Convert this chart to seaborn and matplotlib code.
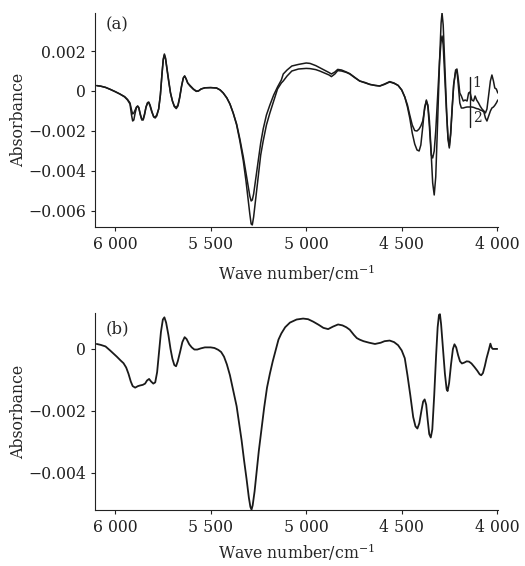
import matplotlib
matplotlib.use("Agg")
import matplotlib.pyplot as plt
import seaborn as sns
import pandas as pd

# ------------------------------
# Data
# ------------------------------

# panel (a): two spectra on a common wave-number grid
wn_a = [6096, 6075, 6050, 6025, 6000, 5975, 5950, 5935, 5922, 5914, 5908, 5902,
        5895, 5888, 5882, 5876, 5868, 5860, 5853, 5846, 5838, 5830, 5824, 5817,
        5808, 5798, 5790, 5782, 5772, 5763, 5755, 5748, 5742, 5736, 5728, 5720,
        5710, 5700, 5690, 5680, 5671, 5662, 5652, 5643, 5636, 5628, 5620, 5608,
        5590, 5575, 5564, 5550, 5530, 5500, 5469, 5450, 5434, 5415, 5399, 5382,
        5364, 5347, 5329, 5315, 5303, 5295, 5288, 5282, 5275, 5265, 5251, 5238,
        5225, 5208, 5190, 5170, 5150, 5130, 5120, 5100, 5075, 5040, 5000, 4980,
        4950, 4929, 4900, 4880, 4868, 4850, 4835, 4815, 4790, 4772, 4745, 4720,
        4690, 4667, 4640, 4615, 4590, 4563, 4540, 4519, 4500, 4484, 4470, 4458,
        4445, 4432, 4420, 4409, 4400, 4390, 4380, 4371, 4363, 4355, 4345, 4338,
        4330, 4322, 4312, 4302, 4294, 4289, 4283, 4274, 4265, 4258, 4251, 4244,
        4236, 4228, 4218, 4211, 4204, 4196, 4188, 4178, 4168, 4158, 4150, 4143,
        4133, 4124, 4116, 4108, 4098, 4090, 4080, 4070, 4062, 4054, 4045, 4036,
        4028, 4020, 4013, 4005, 3997]

# absorbance x 1e-3
curve1 = [0.27, 0.24, 0.18, 0.08, -0.03, -0.15, -0.28, -0.42, -0.6, -0.95, -1.15, -1.1,
          -0.95, -0.8, -0.76, -0.85, -1.15, -1.42, -1.4, -1.15, -0.8, -0.6, -0.58, -0.75,
          -1.05, -1.28, -1.3, -1.2, -0.9, -0.2, 0.8, 1.55, 1.8, 1.6, 1.05, 0.5,
          -0.1, -0.5, -0.75, -0.82, -0.7, -0.3, 0.25, 0.65, 0.75, 0.6, 0.4, 0.28,
          0.1, 0.0, 0.0, 0.1, 0.16, 0.17, 0.15, 0.05, -0.1, -0.35, -0.65, -1.1,
          -1.65, -2.4, -3.3, -4.1, -4.8, -5.25, -5.5, -5.45, -5.15, -4.5, -3.5, -2.6,
          -1.9, -1.2, -0.7, -0.2, 0.2, 0.55, 0.85, 1.05, 1.25, 1.33, 1.4, 1.38,
          1.27, 1.17, 1.02, 0.92, 0.85, 0.95, 1.08, 1.05, 0.95, 0.87, 0.68, 0.5,
          0.42, 0.33, 0.28, 0.25, 0.35, 0.47, 0.4, 0.28, 0.05, -0.3, -0.7, -1.2,
          -1.7, -1.98, -2.0, -1.9, -1.75, -1.5, -0.9, -0.45, -0.8, -1.8, -3.3, -4.6,
          -5.2, -4.3, -1.5, 1.5, 3.4, 3.9, 3.3, 1.2, -1.0, -2.4, -2.85, -2.2,
          -0.9, 0.3, 1.05, 1.1, 0.6, -0.1, -0.25, -0.5, -0.45, -0.5, -0.1, -0.05,
          -0.45, -0.5, -0.25, -0.45, -0.6, -0.75, -0.9, -1.0, -1.1, -0.9, -0.2, 0.5,
          0.8, 0.5, 0.15, 0.1, -0.1]

curve2 = [0.27, 0.24, 0.18, 0.08, -0.03, -0.15, -0.3, -0.45, -0.65, -1.2, -1.5, -1.45,
          -1.1, -0.82, -0.75, -0.82, -1.2, -1.45, -1.45, -1.2, -0.8, -0.58, -0.55, -0.7,
          -1.0, -1.3, -1.35, -1.25, -0.9, -0.2, 0.8, 1.6, 1.85, 1.65, 1.1, 0.55,
          -0.1, -0.5, -0.78, -0.88, -0.75, -0.35, 0.25, 0.65, 0.75, 0.6, 0.4, 0.25,
          0.08, -0.02, 0.0, 0.1, 0.16, 0.17, 0.15, 0.05, -0.1, -0.35, -0.65, -1.1,
          -1.7, -2.5, -3.5, -4.5, -5.5, -6.15, -6.65, -6.7, -6.3, -5.5, -4.3, -3.2,
          -2.5, -1.7, -1.1, -0.5, 0.1, 0.4, 0.5, 0.75, 1.0, 1.1, 1.13, 1.12,
          1.07, 1.0, 0.88, 0.8, 0.72, 0.85, 1.02, 1.0, 0.93, 0.85, 0.66, 0.5,
          0.4, 0.33, 0.28, 0.25, 0.33, 0.45, 0.38, 0.28, 0.05, -0.3, -0.8, -1.35,
          -2.1, -2.65, -2.95, -3.0, -2.7, -1.8, -0.8, -0.5, -0.7, -1.5, -3.2, -3.35,
          -3.0, -2.0, -0.3, 1.5, 2.5, 2.75, 2.3, 0.6, -1.2, -2.3, -2.75, -2.1,
          -0.8, 0.35, 0.95, 1.0, 0.3, -0.6, -0.85, -0.85, -0.82, -0.8, -0.8, -0.8,
          -0.8, -0.82, -0.85, -0.88, -0.9, -0.95, -0.98, -1.05, -1.35, -1.5, -1.25, -1.0,
          -0.85, -0.8, -0.72, -0.6, -0.45]

# panel (b): single spectrum
wn_b = [6096, 6075, 6050, 6026, 6005, 5991, 5970, 5956, 5942, 5930, 5918, 5908,
        5895, 5880, 5869, 5855, 5843, 5833, 5822, 5812, 5800, 5790, 5780, 5770,
        5760, 5750, 5742, 5733, 5721, 5710, 5700, 5690, 5681, 5672, 5660, 5648,
        5636, 5626, 5612, 5599, 5585, 5570, 5550, 5530, 5500, 5480, 5460, 5445,
        5430, 5415, 5399, 5380, 5364, 5350, 5338, 5325, 5312, 5300, 5292, 5286,
        5280, 5270, 5260, 5248, 5233, 5220, 5205, 5190, 5175, 5160, 5145, 5130,
        5110, 5085, 5050, 5016, 4990, 4963, 4935, 4910, 4885, 4860, 4833, 4810,
        4790, 4772, 4750, 4735, 4720, 4700, 4670, 4640, 4610, 4590, 4563, 4540,
        4519, 4500, 4484, 4470, 4455, 4440, 4428, 4418, 4408, 4397, 4388, 4380,
        4372, 4364, 4356, 4348, 4340, 4330, 4320, 4312, 4305, 4300, 4294, 4284,
        4274, 4265, 4260, 4252, 4242, 4232, 4224, 4215, 4205, 4195, 4185, 4172,
        4160, 4148, 4135, 4120, 4105, 4092, 4084, 4075, 4065, 4056, 4045, 4036,
        4030, 4024, 4000]

curve_b = [0.16, 0.13, 0.08, -0.05, -0.17, -0.25, -0.38, -0.46, -0.6, -0.8, -1.05, -1.2,
           -1.25, -1.2, -1.18, -1.16, -1.12, -1.02, -0.97, -1.05, -1.12, -1.08, -0.75, -0.1,
           0.55, 0.95, 1.02, 0.85, 0.45, 0.0, -0.32, -0.52, -0.56, -0.4, -0.1, 0.22,
           0.38, 0.32, 0.15, 0.05, -0.02, -0.02, 0.02, 0.05, 0.05, 0.03, -0.03, -0.1,
           -0.25, -0.5, -0.85, -1.4, -1.85, -2.45, -2.95, -3.6, -4.2, -4.8, -5.1, -5.19,
           -5.05, -4.6, -4.0, -3.3, -2.55, -1.9, -1.25, -0.8, -0.4, -0.05, 0.3, 0.5,
           0.7, 0.85, 0.95, 0.98, 0.96, 0.88, 0.78, 0.68, 0.64, 0.72, 0.79, 0.76,
           0.7, 0.62, 0.45, 0.35, 0.3, 0.25, 0.2, 0.16, 0.2, 0.25, 0.27, 0.22,
           0.12, -0.05, -0.3, -0.85, -1.5, -2.2, -2.5, -2.57, -2.4, -2.0, -1.7, -1.63,
           -1.8, -2.3, -2.75, -2.86, -2.6, -1.5, -0.2, 0.7, 1.1, 1.12, 0.8, 0.0,
           -0.8, -1.3, -1.36, -1.1, -0.5, 0.0, 0.15, 0.05, -0.2, -0.4, -0.47, -0.44,
           -0.4, -0.41, -0.47, -0.58, -0.7, -0.82, -0.85, -0.78, -0.55, -0.3, -0.05, 0.17,
           0.05, 0.0, 0.0]

x_ticks = [6000, 5500, 5000, 4500, 4000]
x_tick_labels = ["6 000", "5 500", "5 000", "4 500", "4 000"]
ya_ticks = [0.002, 0, -0.002, -0.004, -0.006]
ya_tick_labels = ["0.002", "0", "\u22120.002", "\u22120.004", "\u22120.006"]
yb_ticks = [0, -0.002, -0.004]
yb_tick_labels = ["0", "\u22120.002", "\u22120.004"]

df_a = pd.DataFrame({
    "wn": wn_a + wn_a,
    "A": [v * 1e-3 for v in curve1] + [v * 1e-3 for v in curve2],
    "curve": ["1"] * len(wn_a) + ["2"] * len(wn_a),
})
df_b = pd.DataFrame({"wn": wn_b, "A": [v * 1e-3 for v in curve_b]})

# ------------------------------
# Plot
# ------------------------------
sns.set_style("ticks")
plt.rcParams["font.family"] = ["DejaVu Serif"]
plt.rcParams["mathtext.fontset"] = "dejavuserif"
plt.rcParams["font.size"] = 11.3
plt.rcParams["xtick.major.size"] = 3
plt.rcParams["ytick.major.size"] = 3
plt.rcParams["axes.edgecolor"] = "#222222"
plt.rcParams["xtick.color"] = "#222222"
plt.rcParams["ytick.color"] = "#222222"

fig = plt.figure(figsize=(5.25, 5.66), dpi=100)
ax1 = fig.add_axes([0.181, 0.599, 0.768, 0.378])
ax2 = fig.add_axes([0.181, 0.099, 0.768, 0.348])

sns.lineplot(data=df_a, x="wn", y="A", hue="curve", palette=["#1a1a1a", "#1a1a1a"],
             estimator=None, linewidth=1.1, legend=False, ax=ax1)
sns.lineplot(data=df_b, x="wn", y="A", color="#1a1a1a", estimator=None,
             linewidth=1.3, ax=ax2)

# curve labels in panel (a)
ax1.plot([4145, 4145], [0.00072, -0.00178], color="#1a1a1a", linewidth=1.0)
ax1.text(4128, 0.0004, "1", fontsize=10, va="center", ha="left")
ax1.text(4128, -0.00135, "2", fontsize=10, va="center", ha="left")

for ax, yt, ytl, ylim, tag, ty, xl_y in [
    (ax1, ya_ticks, ya_tick_labels, (-0.0068, 0.0039), "(a)", 0.944, -0.215),
    (ax2, yb_ticks, yb_tick_labels, (-0.0052, 0.00116), "(b)", 0.92, -0.215),
]:
    ax.set_xlim(6105, 3995)
    ax.set_ylim(*ylim)
    ax.set_xticks(x_ticks)
    ax.set_xticklabels(x_tick_labels)
    ax.set_yticks(yt)
    ax.set_yticklabels(ytl)
    ax.set_xlabel("Wave number/cm$^{-1}$")
    ax.set_ylabel("Absorbance")
    ax.xaxis.set_label_coords(0.5, xl_y)
    ax.xaxis.label.set_va("center")
    ax.yaxis.set_label_coords(-0.19, 0.5)
    ax.yaxis.label.set_va("center")
    ax.text(0.027, ty, tag, transform=ax.transAxes, fontsize=12, va="center")
    sns.despine(ax=ax)

fig.savefig("out.png", dpi=100)
